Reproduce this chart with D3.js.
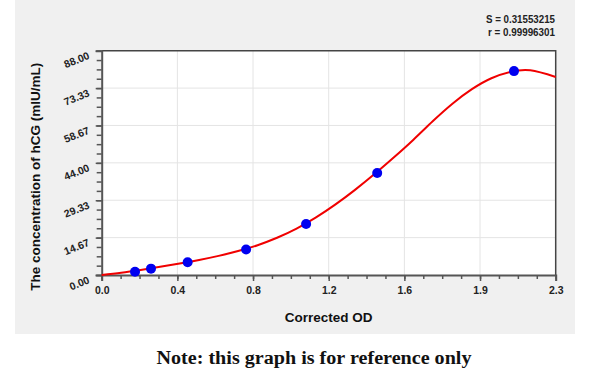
<!DOCTYPE html>
<html>
<head>
<meta charset="utf-8">
<script src="https://cdn.jsdelivr.net/npm/d3@7"></script>
<style>
  body { margin: 0; background: #fff; }
  svg { display: block; }
  .tick text { font-family: "Liberation Sans", Arial, sans-serif; font-weight: bold; fill: #222; }
</style>
</head>
<body>
<svg id="chart" width="600" height="376"></svg>
<script>
// standards: corrected OD vs hCG concentration
const standardOD = [0.171, 0.253, 0.441, 0.741, 1.049, 1.414, 2.116];
const standardConc = [1.25, 2.5, 5, 10, 20, 40, 80];

// fitted curve
const fitOD = [0, 0.1, 0.2, 0.3, 0.4, 0.5, 0.6, 0.7, 0.8, 0.9, 1.0, 1.1, 1.2, 1.3, 1.4, 1.5, 1.6, 1.7, 1.8, 1.9, 2.0, 2.1, 2.2, 2.33];
const fitConc = [0, 0.9, 2.0, 3.2, 4.5, 5.9, 7.5, 9.4, 11.7, 14.6, 18.2, 22.6, 27.7, 33.4, 39.6, 46.2, 53.1, 60.4, 67.2, 72.9, 77.2, 79.7, 80.3, 77.7];

const xTickLabels = ["0.0", "0.4", "0.8", "1.2", "1.6", "1.9", "2.3"];
const yTickLabels = ["0.00", "14.67", "29.33", "44.00", "58.67", "73.33", "88.00"];
const xMax = 2.33, yMax = 88;

const svg = d3.select("#chart");

// grey panel
svg.append("rect")
  .attr("x", 15).attr("y", 0)
  .attr("width", 560).attr("height", 334)
  .attr("fill", "#f0f0f0");

const plot = { left: 101.7, top: 50.7, right: 555.7, bottom: 275 };
const width = plot.right - plot.left;
const height = plot.bottom - plot.top;

const g = svg.append("g").attr("transform", `translate(${plot.left}, ${plot.top})`);

g.append("rect").attr("width", width).attr("height", height).attr("fill", "#fff");

const x = d3.scaleLinear().domain([0, xMax]).range([0, width]);
const y = d3.scaleLinear().domain([0, yMax]).range([height, 0]);

const xMajor = xTickLabels.map((_, i) => xMax * i / 6);
const yMajor = yTickLabels.map((_, i) => yMax * i / 6);
const xMinor = d3.range(25).map(i => xMax * i / 24);
const yMinor = d3.range(25).map(i => yMax * i / 24);

// grid
g.append("g").selectAll("line").data(xMajor.slice(1, -1)).enter().append("line")
  .attr("x1", d => x(d)).attr("x2", d => x(d))
  .attr("y1", 0).attr("y2", height)
  .attr("stroke", "#e4e4e4");
g.append("g").selectAll("line").data(yMajor.slice(1, -1)).enter().append("line")
  .attr("y1", d => y(d)).attr("y2", d => y(d))
  .attr("x1", 0).attr("x2", width)
  .attr("stroke", "#e4e4e4");

// frame top/right
g.append("path")
  .attr("d", `M0,0H${width}V${height}`)
  .attr("fill", "none").attr("stroke", "#444").attr("stroke-width", 1.5);

// minor ticks
g.append("g")
  .attr("transform", `translate(0, ${height})`)
  .call(d3.axisBottom(x).tickValues(xMinor).tickSize(4).tickFormat(""))
  .call(a => a.select(".domain").remove())
  .selectAll("line").attr("stroke", "#555").attr("stroke-width", 1.5);
g.append("g")
  .call(d3.axisLeft(y).tickValues(yMinor).tickSize(5).tickFormat(""))
  .call(a => a.select(".domain").remove())
  .selectAll("line").attr("stroke", "#555").attr("stroke-width", 1.5);

// major axes
const xAxis = g.append("g")
  .attr("transform", `translate(0, ${height})`)
  .call(d3.axisBottom(x).tickValues(xMajor).tickSize(6).tickPadding(6)
    .tickFormat((d, i) => xTickLabels[i]));
xAxis.select(".domain").attr("stroke", "#555").attr("stroke-width", 2);
xAxis.selectAll("line").attr("stroke", "#555").attr("stroke-width", 1.5);
xAxis.selectAll("text").attr("font-size", 10.5);

const yAxis = g.append("g")
  .call(d3.axisLeft(y).tickValues(yMajor).tickSize(6).tickPadding(8)
    .tickFormat((d, i) => yTickLabels[i]));
yAxis.select(".domain").attr("stroke", "#555").attr("stroke-width", 2);
yAxis.selectAll("line").attr("stroke", "#555").attr("stroke-width", 1.5);
yAxis.selectAll("text")
  .attr("font-size", 10.5)
  .attr("dy", "0.55em")
  .attr("transform", "rotate(-22, -9, 0)");

// fitted curve
const line = d3.line()
  .x((d, i) => x(fitOD[i]))
  .y(d => y(d))
  .curve(d3.curveNatural);
g.append("path")
  .datum(fitConc)
  .attr("d", line)
  .attr("fill", "none")
  .attr("stroke", "#f00000")
  .attr("stroke-width", 2);

// standards
g.append("g").selectAll("circle").data(standardConc).enter().append("circle")
  .attr("cx", (d, i) => x(standardOD[i]))
  .attr("cy", d => y(d))
  .attr("r", 5)
  .attr("fill", "#0000f0");

// titles
svg.append("text")
  .attr("x", (plot.left + plot.right) / 2).attr("y", 322)
  .attr("text-anchor", "middle")
  .attr("font-family", "Liberation Sans, Arial, sans-serif")
  .attr("font-weight", "bold").attr("font-size", 13.5).attr("fill", "#111")
  .text("Corrected OD");

svg.append("text")
  .attr("transform", `translate(40, ${(plot.top + plot.bottom) / 2 + 14}) rotate(-90)`)
  .attr("text-anchor", "middle")
  .attr("font-family", "Liberation Sans, Arial, sans-serif")
  .attr("font-weight", "bold").attr("font-size", 13.5).attr("fill", "#111")
  .text("The concentration of hCG (mIU/mL)");

svg.append("text")
  .attr("x", 555).attr("y", 23)
  .attr("text-anchor", "end")
  .attr("font-family", "Liberation Sans, Arial, sans-serif")
  .attr("font-weight", "bold").attr("font-size", 10.5).attr("fill", "#222")
  .attr("textLength", 69).attr("lengthAdjust", "spacingAndGlyphs")
  .text("S = 0.31553215");
svg.append("text")
  .attr("x", 555).attr("y", 36)
  .attr("text-anchor", "end")
  .attr("font-family", "Liberation Sans, Arial, sans-serif")
  .attr("font-weight", "bold").attr("font-size", 10.5).attr("fill", "#222")
  .attr("textLength", 67).attr("lengthAdjust", "spacingAndGlyphs")
  .text("r = 0.99996301");

svg.append("text")
  .attr("x", 314).attr("y", 364)
  .attr("text-anchor", "middle")
  .attr("font-family", "Liberation Serif, serif")
  .attr("font-weight", "bold").attr("font-size", 18).attr("fill", "#111")
  .attr("textLength", 315).attr("lengthAdjust", "spacingAndGlyphs")
  .text("Note: this graph is for reference only");
</script>
</body>
</html>
